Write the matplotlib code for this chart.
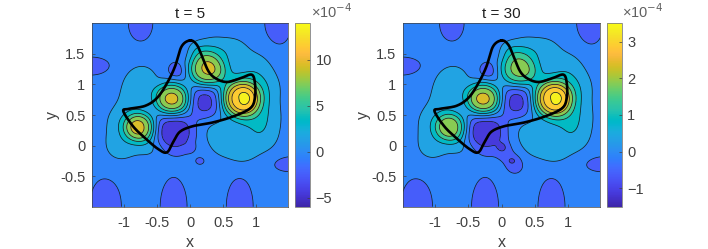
import numpy as np
import matplotlib
matplotlib.use('Agg')
import matplotlib.pyplot as plt
from matplotlib.colors import LinearSegmentedColormap, Normalize
from matplotlib.cm import ScalarMappable

plt.rcParams['font.family'] = ['Liberation Sans', 'DejaVu Sans']
plt.rcParams['contour.negative_linestyle'] = 'solid'

PARULA = [[0.2422,0.1504,0.6603],[0.2504,0.1650,0.7076],[0.2578,0.1818,0.7511],[0.2647,0.1978,0.7952],[0.2706,0.2147,0.8364],[0.2751,0.2342,0.8710],[0.2783,0.2559,0.8991],[0.2803,0.2782,0.9221],[0.2813,0.3006,0.9414],[0.2810,0.3228,0.9579],[0.2795,0.3447,0.9717],[0.2760,0.3667,0.9829],[0.2699,0.3892,0.9906],[0.2602,0.4123,0.9952],[0.2440,0.4358,0.9988],[0.2206,0.4603,0.9973],[0.1963,0.4847,0.9892],[0.1834,0.5074,0.9798],[0.1786,0.5289,0.9682],[0.1764,0.5499,0.9520],[0.1687,0.5703,0.9359],[0.1540,0.5902,0.9218],[0.1460,0.6091,0.9079],[0.1380,0.6276,0.8973],[0.1248,0.6459,0.8883],[0.1113,0.6635,0.8763],[0.0952,0.6798,0.8598],[0.0689,0.6948,0.8394],[0.0297,0.7082,0.8163],[0.0036,0.7203,0.7917],[0.0067,0.7312,0.7660],[0.0433,0.7411,0.7394],[0.0964,0.7500,0.7120],[0.1408,0.7584,0.6842],[0.1717,0.7670,0.6554],[0.1938,0.7758,0.6251],[0.2161,0.7843,0.5923],[0.2470,0.7918,0.5567],[0.2906,0.7973,0.5188],[0.3406,0.8008,0.4789],[0.3909,0.8029,0.4354],[0.4456,0.8024,0.3909],[0.5044,0.7993,0.3480],[0.5616,0.7942,0.3045],[0.6174,0.7876,0.2612],[0.6720,0.7793,0.2227],[0.7242,0.7698,0.1910],[0.7738,0.7598,0.1646],[0.8203,0.7498,0.1535],[0.8634,0.7406,0.1596],[0.9035,0.7330,0.1774],[0.9393,0.7288,0.2100],[0.9728,0.7298,0.2394],[0.9956,0.7434,0.2371],[0.9970,0.7659,0.2199],[0.9952,0.7893,0.2028],[0.9892,0.8136,0.1885],[0.9786,0.8386,0.1766],[0.9676,0.8639,0.1643],[0.9610,0.8890,0.1537],[0.9597,0.9135,0.1423],[0.9628,0.9373,0.1265],[0.9691,0.9606,0.1064],[0.9769,0.9839,0.0805]]
cmap = LinearSegmentedColormap.from_list('parula', PARULA, N=256)

# closed interface curve
curve_x = [0,0.1,0.18,0.28,0.40,0.56,0.76,0.93,0.98,0.98,0.91,0.66,0.35,0.05,-0.15,-0.25,-0.35,-0.48,-0.68,-0.86,-1.01,-0.93,-0.68,-0.50,-0.35,-0.23,-0.13]
curve_y = [1.72,1.65,1.46,1.21,1.09,1.04,1.10,1.16,1.02,0.78,0.61,0.48,0.38,0.32,0.23,0.07,-0.11,-0.06,0.12,0.31,0.56,0.60,0.65,0.78,1.02,1.29,1.62]

# estimated field features, in units of the panel's colour step
peak_x = [0.76,0.25,-0.27,-0.76,0.23,-0.25,-0.2]
peak_y = [0.76,1.25,0.76,0.30,0.72,0.22,1.22]
peak_w = [0.21,0.20,0.19,0.17,0.18,0.21,0.10]
left_amp  = [5.7,4.8,5.0,4.4,-1.65,-2.15,-0.8]
right_amp = [5.7,4.0,5.0,3.8,-1.65,-2.1,-0.8]

plateau_x = [-1.05,-1.02,-0.82,-0.72,0.1,0.35,0.65,0.4,0.95,1.12,1.12,1.08,0.78,0.5,-0.6, 0.85,0.85,0.55]
plateau_y = [-0.02,0.42,0.85,1.12,1.58,1.62,1.58,0.22,1.3,0.95,0.5,0.12,-0.1,-0.02,-0.02, 0.9,0.45,1.15]
plateau_w = [0.22,0.22,0.22,0.2,0.12,0.16,0.16,0.18,0.22,0.22,0.22,0.22,0.16,0.16,0.16, 0.2,0.2,0.16]
left_plateau  = [1.15,1.15,1.0,1.0,0.95,1.05,1.1,1.0,1.1,1.15,1.15,1.15,1.05,0.85,0.85, 0.8,0.8,0.7]
right_plateau = [1.05,1.15,1.0,1.0,0.95,1.05,1.1,1.0,1.1,1.15,1.15,1.15,1.05,0.85,0.75, 0.8,0.8,0.7]

dip_x = [-1.5,-1.28,-0.25,0.75,1.5,-0.75,1.33,0.15,0.0]
dip_y = [1.3,-1.0,-1.0,-1.0,-0.3,2.0,2.0,-0.25,-0.03]
dip_wx = [0.16,0.13,0.11,0.11,0.14,0.10,0.11,0.04,0.05]
dip_wy = [0.08,0.26,0.26,0.26,0.07,0.16,0.20,0.035,0.05]
left_dip = [-1.1,-1.1,-1.1,-1.1,-1.1,-1.1,-1.1,-0.8,-0.7]
right_dip = [-1.1,-1.1,-1.1,-1.1,-1.1,-1.1,-1.1,-1.0,-0.9]

neck_x = [0.05,0.2]
neck_y = [-0.08,-0.28]
right_neck = [-0.6,-0.7]

left_step, right_step = 2.0, 0.5
left_levels = np.arange(-6, 16, 2.0)
right_levels = np.arange(-1.5, 4.0, 0.5)
left_range = (-6, 14)
right_range = (-1.5, 3.5)
left_ticks = [-5, 0, 5, 10]
right_ticks = [-1, 0, 1, 2, 3]
x_ticks = [-1, -0.5, 0, 0.5, 1]
y_ticks = [-0.5, 0, 0.5, 1, 1.5]
xlabels = ['-1', '-0.5', '0', '0.5', '1']
ylabels = ['-0.5', '0', '0.5', '1', '1.5']

gx = np.linspace(-1.5, 1.5, 400)
gy = np.linspace(-1, 2, 400)
X, Y = np.meshgrid(gx, gy)
BG = -0.8  # background in colour steps

def bump(x, y, a, wx, wy, p=1.0):
    return a*np.exp(-((X-x)**2/(2*wx*wx)+(Y-y)**2/(2*wy*wy))**p)

def field(peaks, plats, dips, necks, step):
    Z = np.full_like(X, BG)
    for x, y, a, w in zip(peak_x, peak_y, peaks, peak_w):
        Z += bump(x, y, a, w, w, 1.4)
    for x, y, a, w in zip(plateau_x, plateau_y, plats, plateau_w):
        Z += bump(x, y, a, w, w)
    for x, y, a, wx, wy in zip(dip_x, dip_y, dips, dip_wx, dip_wy):
        Z += bump(x, y, a, wx, wy)
    for x, y, a in zip(neck_x, neck_y, necks):
        Z += bump(x, y, a, 0.09, 0.11)
    return Z*step

def closed_spline(xs, ys, n=16):
    P = np.column_stack([xs, ys])
    out = []
    t = np.linspace(0, 1, n, endpoint=False)[:, None]
    for i in range(len(P)):
        p0, p1, p2, p3 = P[i-1], P[i], P[(i+1) % len(P)], P[(i+2) % len(P)]
        out.append(0.5*(2*p1+(p2-p0)*t+(2*p0-5*p1+4*p2-p3)*t**2+(3*p1-p0-3*p2+p3)*t**3))
    out = np.vstack(out)
    return np.vstack([out, out[:1]])

W, H = 708, 249
fig = plt.figure(figsize=(W/100, H/100), dpi=100)
ink = '#404040'
FS = 10.5

def panel(axbox, cbox, title, Z, levels, rng, cticks, step):
    ax = fig.add_axes([axbox[0]/W, 1-axbox[3]/H, (axbox[2]-axbox[0])/W, (axbox[3]-axbox[1])/H])
    norm = Normalize(*rng)
    cols = [cmap(norm(l+0.75*step)) for l in levels[:-1]]
    ax.contourf(X, Y, Z, levels=levels, colors=cols, extend='neither')
    ax.contour(X, Y, Z, levels=levels, colors='#1a1a2a', linewidths=0.55)
    c = closed_spline(curve_x, curve_y)
    ax.plot(c[:, 0], c[:, 1], color='k', lw=1.9)
    ax.set_xlim(-1.48, 1.48)
    ax.set_ylim(-1, 2)
    ax.set_xticks(x_ticks, xlabels)
    ax.set_yticks(y_ticks, ylabels)
    ax.tick_params(direction='in', length=2, width=0.5, labelsize=FS, colors=ink, pad=5)
    ax.tick_params(axis='x', pad=7)
    for s in ax.spines.values():
        s.set_linewidth(0.5); s.set_color(ink)
    ax.set_xlabel('x', fontsize=FS+1, color=ink, labelpad=3)
    ax.set_ylabel('y', fontsize=FS+1, color=ink, labelpad=0)
    ax.set_title(title, fontsize=FS+0.5, color='#202020', pad=4)
    cax = fig.add_axes([cbox[0]/W, 1-cbox[3]/H, (cbox[2]-cbox[0])/W, (cbox[3]-cbox[1])/H])
    cb = fig.colorbar(ScalarMappable(norm=norm, cmap=cmap), cax=cax)
    cb.set_ticks(cticks)
    cb.ax.tick_params(direction='in', length=2, width=0.5, labelsize=FS, colors=ink, pad=4)
    cb.outline.set_linewidth(0.6); cb.outline.set_edgecolor('#808080')
    cax.text(1.05, 1.015, '×10$^{-4}$', transform=cax.transAxes, fontsize=FS, color='#606060',
             ha='left', va='bottom')

panel((92.3, 23.3, 288, 206.7), (295, 23.3, 310, 206.7), 't = 5',
      field(left_amp, left_plateau, left_dip, [0, 0], left_step), left_levels, left_range, left_ticks, left_step)
panel((403.3, 23.3, 600, 206.7), (606.7, 23.3, 621.7, 206.7), 't = 30',
      field(right_amp, right_plateau, right_dip, right_neck, right_step), right_levels, right_range, right_ticks, right_step)
fig.savefig('out.png', dpi=100)
